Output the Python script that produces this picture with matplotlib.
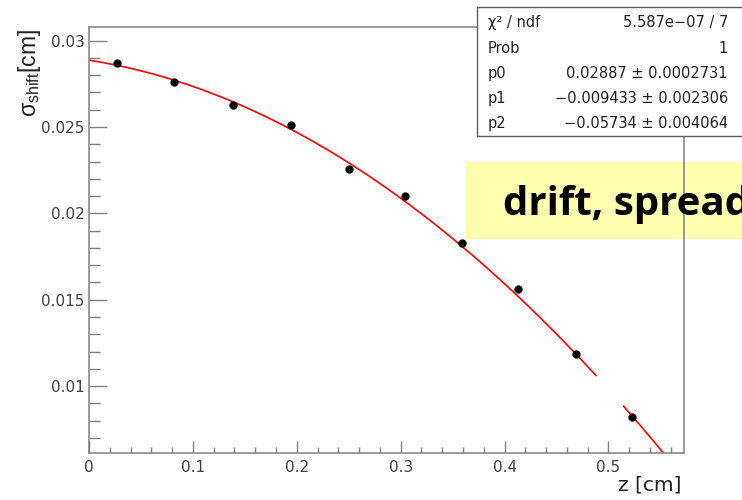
import matplotlib
matplotlib.use('Agg')
import matplotlib.pyplot as plt
import numpy as np
from matplotlib.patches import Rectangle
from matplotlib.ticker import MultipleLocator, FixedLocator, FixedFormatter

# ---- data ----
z_points = [0.027, 0.082, 0.139, 0.194, 0.250, 0.304, 0.359, 0.413, 0.469, 0.523]
sigma_points = [0.02873, 0.02759, 0.02627, 0.02512, 0.02255, 0.02098, 0.01826, 0.01560, 0.01187, 0.00819]
fit_p0, fit_p1, fit_p2 = 0.02887, -0.009433, -0.05734
stat_labels = ['χ² / ndf', 'Prob', 'p0', 'p1', 'p2']
stat_values = ['5.587e\u221207 / 7', '1', '0.02887 ± 0.0002731',
               '\u22120.009433 ± 0.002306', '\u22120.05734 ± 0.004064']
x_ticks = [0.0, 0.1, 0.2, 0.3, 0.4, 0.5]
x_tick_labels = ['0', '0.1', '0.2', '0.3', '0.4', '0.5']
y_ticks = [0.01, 0.015, 0.02, 0.025, 0.03]
y_tick_labels = ['0.01', '0.015', '0.02', '0.025', '0.03']
x_label = 'z [cm]'
y_label = r'$\mathrm{\sigma}_{\mathrm{shift}}$[cm]'
note_text = 'drift, spread'

# ---- layout helpers (pixels -> figure fraction) ----
W, H = 742, 500
def fx(px):
    return px / W
def fy(py):
    return 1 - py / H

plt.rcParams['mathtext.fontset'] = 'custom'
plt.rcParams['mathtext.rm'] = 'Liberation Sans'
plt.rcParams['mathtext.it'] = 'Liberation Sans:italic'

fig = plt.figure(figsize=(W / 100, H / 100), dpi=100)
fig.patch.set_facecolor('white')

ax = fig.add_axes([fx(89), fy(452.7), fx(684.3) - fx(89), fy(26.7) - fy(452.7)])
ax.set_facecolor('none')
ax.set_xlim(0, 0.573)
ax.set_ylim(0.00614, 0.03081)

# fit curve (gap where the original was occluded)
zz = np.linspace(0, 0.573, 600)
yy = fit_p0 + fit_p1 * zz + fit_p2 * zz ** 2
gap_lo, gap_hi = 0.488, 0.514
yy = np.where((zz > gap_lo) & (zz < gap_hi), np.nan, yy)
ax.plot(zz, yy, color='#ff0000', lw=1.2, zorder=2)
ax.plot(z_points, sigma_points, 'o', color='black', ms=5, zorder=3)

axis_col = '#808080'
for s in ax.spines.values():
    s.set_color(axis_col)
    s.set_linewidth(1.1)

ax.xaxis.set_major_locator(FixedLocator(x_ticks))
ax.xaxis.set_major_formatter(FixedFormatter(x_tick_labels))
ax.xaxis.set_minor_locator(MultipleLocator(0.02))
ax.yaxis.set_major_locator(FixedLocator(y_ticks))
ax.yaxis.set_major_formatter(FixedFormatter(y_tick_labels))
ax.yaxis.set_minor_locator(MultipleLocator(0.001))

tick_col = '#404040'
ax.tick_params(which='both', direction='in', top=False, right=False,
               color=axis_col, width=1.0, labelcolor=tick_col, labelsize=11)
ax.tick_params(axis='y', which='major', length=13, pad=3)
ax.tick_params(axis='y', which='minor', length=7.7)
ax.tick_params(axis='x', which='major', length=9, pad=5)
ax.tick_params(axis='x', which='minor', length=4.5)
for lab in ax.get_xticklabels() + ax.get_yticklabels():
    lab.set_family('DejaVu Sans')

# axis titles
fig.text(fx(682), fy(485), x_label, ha='right', va='center', fontsize=14.5,
         color='#202020', family='DejaVu Sans')
fig.text(fx(30), fy(29), y_label, ha='center', va='top', rotation=90,
         fontsize=16.5, color='#202020', family='Liberation Sans')

# yellow note box
fig.patches.append(Rectangle((fx(466), fy(239)), fx(760) - fx(466), fy(162) - fy(239),
                             transform=fig.transFigure, facecolor='#FFFFB0',
                             edgecolor='none', zorder=-1))
fig.text(fx(503), fy(215), note_text, ha='left', va='baseline', fontsize=29,
         fontweight='bold', color='black', family='Open Sans', zorder=5)

# stats box
fig.patches.append(Rectangle((fx(477), fy(136)), fx(760) - fx(477), fy(7.3) - fy(136),
                             transform=fig.transFigure, facecolor='white',
                             edgecolor='#606060', lw=1.0, zorder=10))
baselines = [27, 53, 78, 103, 128]
for lab, val, b in zip(stat_labels, stat_values, baselines):
    fig.text(fx(488), fy(b), lab, ha='left', va='baseline', fontsize=10.5,
             color='#202020', family='DejaVu Sans', zorder=11)
    fig.text(fx(728), fy(b), val, ha='right', va='baseline', fontsize=10.5,
             color='#202020', family='DejaVu Sans', zorder=11)

fig.savefig('out.png', dpi=100)
